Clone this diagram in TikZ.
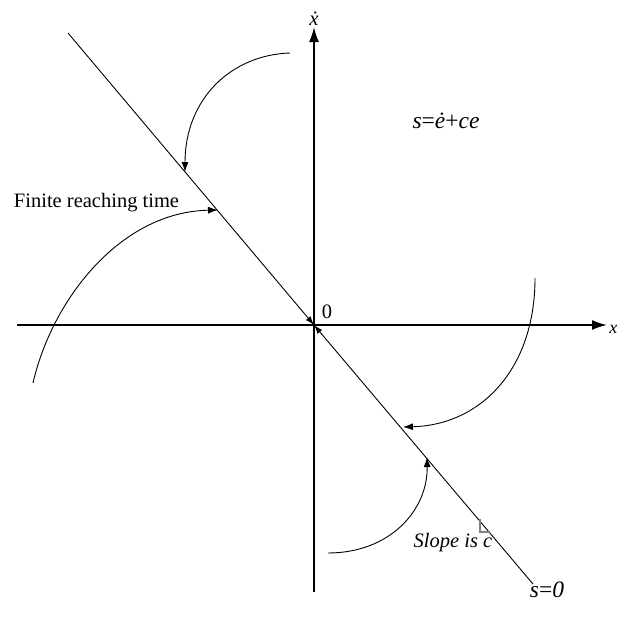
\documentclass[tikz,border=0pt]{standalone}
\usepackage{fontspec}
\setmainfont{Liberation Serif}
\usetikzlibrary{arrows.meta}
\begin{document}
\begin{tikzpicture}[x=1pt,y=-1pt,
  axis/.style={line width=1.8pt,-{Latex[length=15pt,width=10pt]}},
  thin line/.style={line width=0.9pt},
  flow/.style={line width=0.9pt,-{Latex[length=10pt,width=7pt]}},
  lbl/.style={inner sep=0pt,anchor=base,font=\fontsize{20.5}{24}\selectfont},
  biglbl/.style={lbl,font=\fontsize{23.5}{28}\selectfont}]
\useasboundingbox (0,0) rectangle (618,621);
\begin{scope}
\clip (0,0) rectangle (618,621);
\coordinate (O) at (314,325);
\coordinate (xl) at (17,325);
\coordinate (xr) at (607,325);
\coordinate (yb) at (314,592);
\coordinate (yt) at (314,27);
\draw[axis] (xl) -- (xr);
\draw[axis] (yb) -- (yt);
\node[lbl] (xdot) at (314,25) {\textit{ẋ}};
\node[lbl,anchor=base east,font=\fontsize{18}{22}\selectfont] (xlab) at (617.5,333) {\textit{x}};
\node[lbl] (zero) at (327,318) {0};
% sliding line
\coordinate (LA) at (68,33);
\coordinate (LB) at (533,584);
\draw[thin line,-{Latex[length=9pt,width=6pt]}] (LA) -- (O);
\draw[thin line,-{Latex[length=9pt,width=6pt]}] (LB) -- (O);
% curved trajectories
\coordinate (a1) at (290,53);
\coordinate (t1) at (185,172);
\draw[flow] (a1) .. controls (230,55) and (185,100) .. (t1);
\coordinate (a2) at (33,383);
\coordinate (t2) at (218,210);
\draw[flow] (a2) .. controls (52,300) and (120,212) .. (t2);
\coordinate (a3) at (535,278);
\coordinate (t3) at (403,427);
\draw[flow] (a3) .. controls (535,370) and (480,425) .. (t3);
\coordinate (a4) at (328,553);
\coordinate (t4) at (427,457);
\draw[flow] (a4) .. controls (390,553) and (428,510) .. (t4);
% slope marker
\coordinate (r1) at (480,519);
\coordinate (r2) at (480,532);
\coordinate (r3) at (490,532);
\draw[gray,line width=1.1pt] (r1) -- (r2) -- (r3);
% labels
\node[lbl] (frt) at (96.5,207) {Finite reaching time};
\node[biglbl] (seq) at (446,128) {\textit{s}=\textit{ė}+\textit{ce}};
\node[lbl] (slope) at (453,547) {\textit{Slope is c}};
\node[biglbl] (s0) at (547,597) {\textit{s}=\textit{0}};
\end{scope}
\end{tikzpicture}
\end{document}
